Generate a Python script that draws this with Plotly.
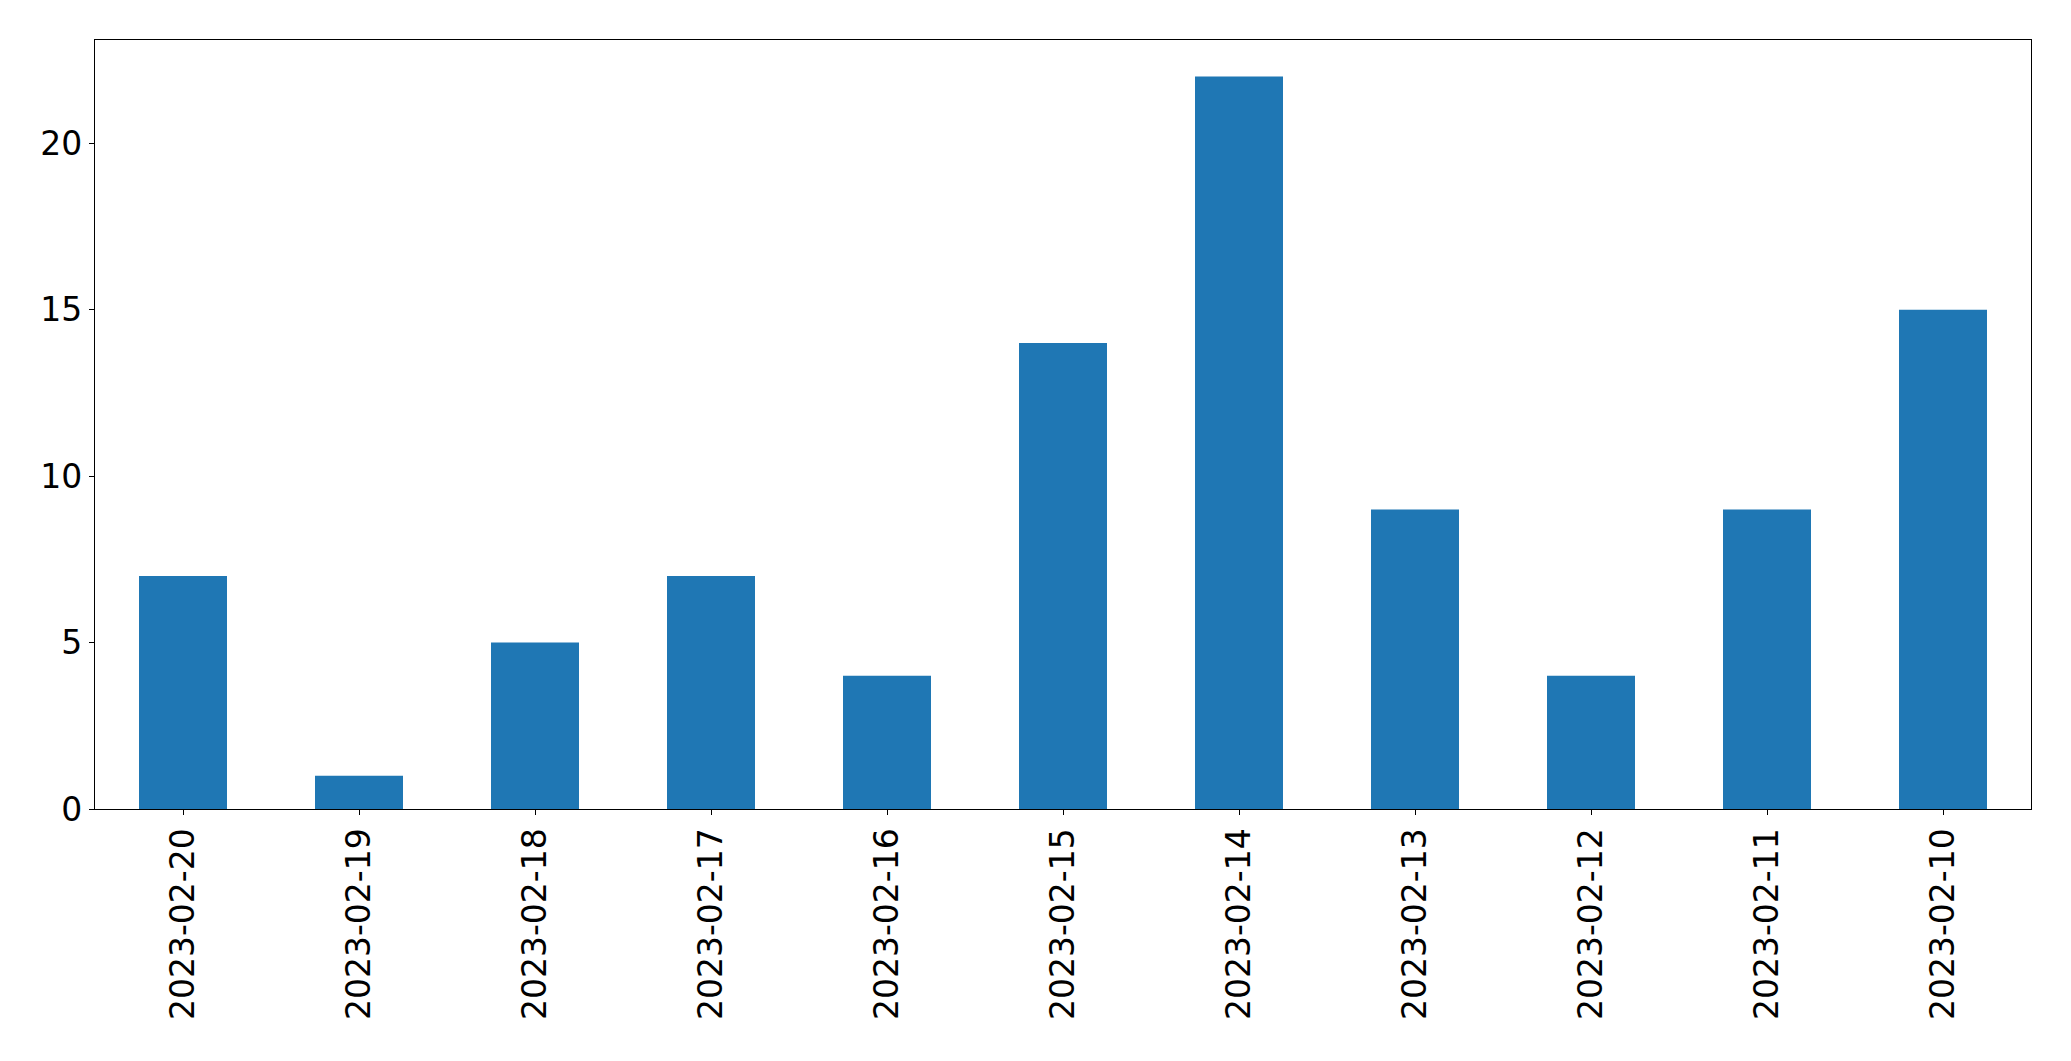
import plotly.graph_objects as go

dates = ["2023-02-20", "2023-02-19", "2023-02-18", "2023-02-17", "2023-02-16", "2023-02-15",
         "2023-02-14", "2023-02-13", "2023-02-12", "2023-02-11", "2023-02-10"]
counts = [7, 1, 5, 7, 4, 14, 22, 9, 4, 9, 15]
y_ticks = [0, 5, 10, 15, 20]

fig = go.Figure(go.Bar(x=dates, y=counts, marker=dict(color="#1f77b4", line=dict(width=0)), width=0.5))

axis_common = dict(showline=True, linecolor="black", linewidth=1.1, mirror=True,
                   ticks="outside", ticklen=5, tickwidth=1.1, tickcolor="black",
                   showgrid=False, zeroline=False,
                   tickfont=dict(family="DejaVu Sans", size=33, color="black"))

fig.update_layout(
    width=2063, height=1053,
    margin=dict(l=86.5, r=39.5, t=31.5, b=252),
    plot_bgcolor="white", paper_bgcolor="white",
    showlegend=False,
    xaxis=dict(type="category", range=[-0.5, 10.5], tickangle=-90, **axis_common),
    yaxis=dict(range=[0, 23.1], tickvals=y_ticks, **axis_common),
)

fig.write_html("out.html")
